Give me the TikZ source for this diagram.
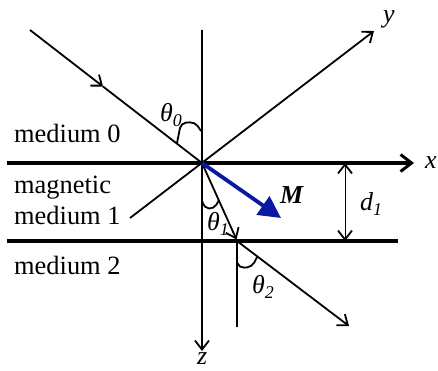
\documentclass[tikz,border=0pt]{standalone}
\usepackage{fontspec}
\setmainfont{Liberation Serif}
\usetikzlibrary{arrows.meta}
\definecolor{mblue}{RGB}{10,25,160}
\newcommand\lblsub[1]{\raisebox{-5bp}{\fontsize{18}{18}\selectfont\itshape #1}}
\begin{document}
\begin{tikzpicture}[x=1bp,y=-1bp,
  ray/.style={line width=1.8bp},
  iface/.style={line width=3.8bp},
  barb/.style={-{Straight Barb[length=9bp,width=14bp,line width=1.8bp]}},
  bigbarb/.style={-{Straight Barb[length=11bp,width=17bp,line width=3bp]}},
  dbarb/.style={{Straight Barb[length=9bp,width=14bp,line width=1.8bp]}-{Straight Barb[length=9bp,width=14bp,line width=1.8bp]}},
  marrow/.style={line width=3.8bp,color=mblue,-{Triangle[length=22bp,width=22bp]}},
  bracket/.style={line width=1.8bp,rounded corners=5bp},
  txt/.style={font=\fontsize{26.5}{31}\selectfont,inner sep=0pt,anchor=base west},
  sym/.style={font=\fontsize{26}{31}\selectfont\itshape,inner sep=0pt,anchor=base west}]
\useasboundingbox (0,0) rectangle (438,370);
% coordinates
\coordinate (O) at (202,163);
\coordinate (P) at (237,241);
\coordinate (L0) at (7,163);
\coordinate (XE) at (414,163);
\coordinate (L2) at (7,241);
\coordinate (R2) at (398,241);
\coordinate (ZT) at (202,30);
\coordinate (ZB) at (202,351);
\coordinate (YS) at (130,218);
\coordinate (YE) at (374,31);
\coordinate (IS) at (30,30);
\coordinate (IM) at (103,86.5);
\coordinate (RT) at (236.5,239.5);
\coordinate (NB) at (237,327);
\coordinate (OE) at (349,326);
\coordinate (MT) at (281,218);
\coordinate (DT) at (345,163);
\coordinate (DB) at (345,241);
% interfaces and axes
\draw[iface] (L0) -- (O);
\draw[iface,bigbarb] (O) -- (XE);
\draw[iface] (L2) -- (R2);
\draw[ray,barb] (ZT) -- (ZB);
\draw[ray,barb] (YS) -- (YE);
% rays
\draw[ray,barb] (IS) -- (IM);
\draw[ray] (IM) -- (O);
\draw[ray,barb] (O) -- (RT);
\draw[ray] (P) -- (NB);
\draw[ray,barb] (P) -- (OE);
% magnetization
\draw[marrow] (O) -- (MT);
% thickness
\draw[dbarb] (DT) -- (DB);
% angle brackets
\draw[bracket] (177,143) -- (181,123) -- (195,122) -- (201,131);
\draw[bracket] (202,200) -- (204,208) -- (214,209) -- (219,200);
\draw[bracket] (237,262) -- (239,268) -- (252,267) -- (257,257);
% labels
\node[txt] (t0) at (14,142) {medium 0};
\node[txt] (t1a) at (14,193) {magnetic};
\node[txt] (t1b) at (14,224) {medium 1};
\node[txt] (t2) at (14,274) {medium 2};
\node[sym] (th0) at (160,121) {θ\lblsub{0}};
\node[sym] (th1) at (207,230) {θ\lblsub{1}};
\node[sym] (th2) at (252,293) {θ\lblsub{2}};
\node[sym] (d1) at (360,210) {d\lblsub{1}};
\node[sym,font=\fontsize{26}{31}\selectfont\bfseries\itshape] (M) at (280,203) {M};
\node[sym] (xl) at (425,168) {x};
\node[sym] (yl) at (383,22) {y};
\node[sym] (zl) at (197,364) {z};
\end{tikzpicture}
\end{document}
